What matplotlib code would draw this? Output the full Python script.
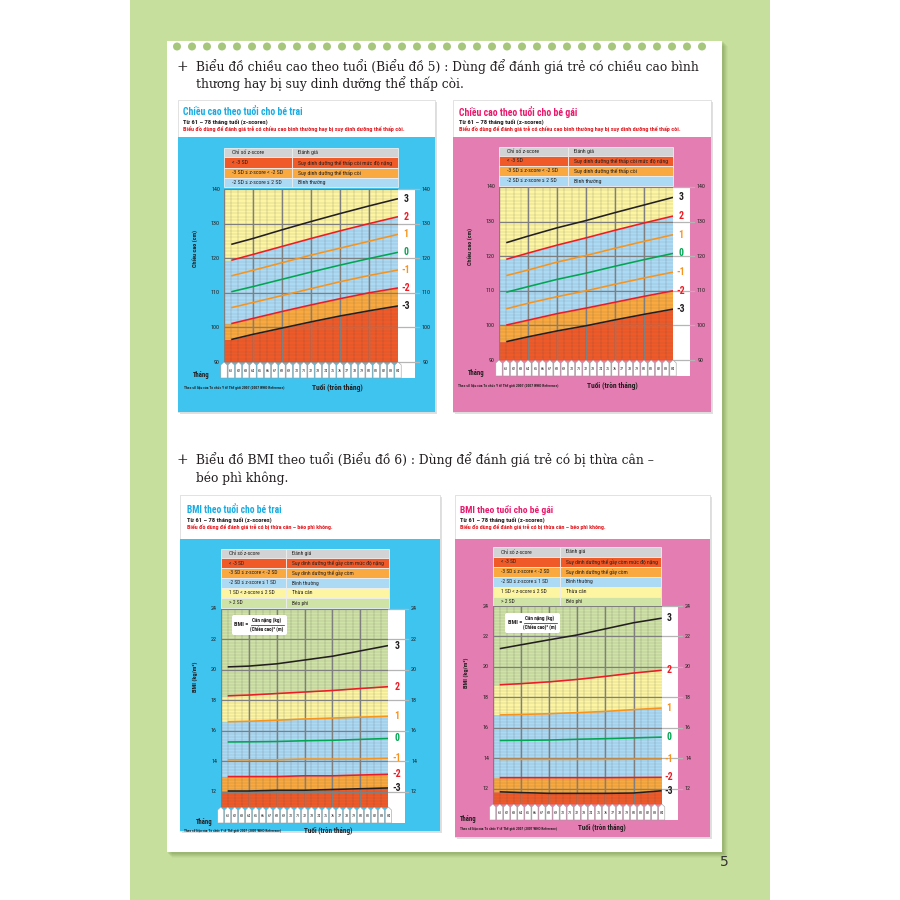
import numpy as np
import matplotlib
matplotlib.use('Agg')
import matplotlib.pyplot as plt
from matplotlib.patches import Rectangle, Polygon, Circle, FancyBboxPatch
from matplotlib import font_manager as fm

# ---------------- data ----------------
months = [61, 64, 68, 72, 76, 80, 84]
tag_months = list(range(60, 85))
z_names = ['-3', '-2', '-1', '0', '1', '2', '3']

# Height-for-age, boys (cm)
hb_m3 = [96.5, 98.0, 99.8, 101.6, 103.3, 104.8, 106.2]
hb_m2 = [101.1, 102.6, 104.6, 106.5, 108.3, 110.0, 111.4]
hb_m1 = [105.7, 107.2, 109.2, 111.2, 113.2, 115.0, 116.6]
hb_0 = [110.3, 111.8, 113.9, 116.0, 118.0, 119.9, 121.7]
hb_p1 = [114.9, 116.5, 118.7, 120.9, 122.9, 124.9, 126.9]
hb_p2 = [119.4, 121.1, 123.4, 125.7, 127.9, 130.0, 132.0]
hb_p3 = [124.0, 125.7, 128.2, 130.6, 132.9, 135.1, 137.2]

# Height-for-age, girls (cm)
hg_m3 = [95.3, 96.7, 98.4, 99.9, 101.6, 103.2, 104.7]
hg_m2 = [100.1, 101.5, 103.4, 105.0, 106.7, 108.4, 110.0]
hg_m1 = [104.8, 106.4, 108.3, 110.0, 111.9, 113.7, 115.4]
hg_0 = [109.6, 111.2, 113.3, 115.1, 117.1, 119.0, 120.8]
hg_p1 = [114.4, 116.0, 118.3, 120.2, 122.3, 124.3, 126.2]
hg_p2 = [119.1, 120.9, 123.2, 125.3, 127.5, 129.6, 131.6]
hg_p3 = [123.9, 125.8, 128.2, 130.3, 132.6, 134.8, 137.0]

# BMI-for-age, boys (kg/m2)
bb_m3 = [12.05, 12.05, 12.1, 12.1, 12.15, 12.2, 12.25]
bb_m2 = [13.0, 13.0, 13.0, 13.05, 13.05, 13.1, 13.15]
bb_m1 = [14.1, 14.1, 14.1, 14.15, 14.15, 14.15, 14.2]
bb_0 = [15.27, 15.28, 15.3, 15.35, 15.38, 15.44, 15.5]
bb_p1 = [16.6, 16.63, 16.7, 16.78, 16.84, 16.9, 16.96]
bb_p2 = [18.3, 18.35, 18.45, 18.55, 18.65, 18.78, 18.9]
bb_p3 = [20.2, 20.25, 20.4, 20.65, 20.9, 21.25, 21.6]

# BMI-for-age, girls (kg/m2)
bg_m3 = [11.8, 11.75, 11.7, 11.7, 11.7, 11.72, 11.87]
bg_m2 = [12.73, 12.73, 12.73, 12.73, 12.73, 12.74, 12.75]
bg_m1 = [13.93, 13.93, 13.93, 13.93, 13.93, 13.94, 13.95]
bg_0 = [15.17, 15.18, 15.2, 15.25, 15.29, 15.34, 15.39]
bg_p1 = [16.85, 16.88, 16.93, 17.0, 17.08, 17.2, 17.3]
bg_p2 = [18.83, 18.9, 19.02, 19.18, 19.38, 19.6, 19.78]
bg_p3 = [21.2, 21.45, 21.78, 22.1, 22.5, 22.9, 23.2]

height_ticks = [90, 100, 110, 120, 130, 140]
bmi_ticks = [12, 14, 16, 18, 20, 22, 24]

# ---------------- fonts ----------------
def has_font(name):
    try:
        fm.findfont(fm.FontProperties(family=name), fallback_to_default=False)
        return True
    except Exception:
        return False

COND = 'DejaVu Sans'
for cand in ['Liberation Sans Narrow', 'Roboto Condensed', 'Open Sans Condensed',
             'Arial Narrow', 'Roboto', 'Liberation Sans']:
    if has_font(cand):
        COND = cand
        break
SANS = [COND, 'DejaVu Sans']
SERIF = ['DejaVu Serif', 'DejaVu Sans']

W = H = 900
fig = plt.figure(figsize=(9, 9), dpi=100)
fig.patch.set_facecolor('white')
bg = fig.add_axes([0, 0, 1, 1])
bg.set_xlim(0, W); bg.set_ylim(H, 0); bg.axis('off')

fits = []      # (text, target width px)
groups = []    # list of ([texts], [targets]) fitted with one common size

def rect(ax, x0, y0, x1, y1, fc, ec='none', lw=0, z=1, alpha=1.0):
    ax.add_patch(Rectangle((x0, y0), x1 - x0, y1 - y0, facecolor=fc, edgecolor=ec,
                           linewidth=lw, zorder=z, alpha=alpha))

def T(ax, x, y, s, size, color='#231f20', weight='bold', ha='left', va='center',
      fam=None, rot=0, z=6, fitw=None, **kw):
    t = ax.text(x, y, s, fontsize=size, color=color, fontweight=weight, ha=ha, va=va,
                family=fam if fam else SANS, rotation=rot, zorder=z, **kw)
    if fitw:
        fits.append((t, fitw))
    return t

# ---------------- page ----------------
rect(bg, 130, 0, 770, 900, '#c6df9c', z=0)
for i, a in enumerate([0.10, 0.09, 0.08, 0.06, 0.05]):
    rect(bg, 168 + i, 42 + i, 724 + i, 854 + i, '#4f6b2a', z=0.5, alpha=a)
rect(bg, 167, 41, 722, 852, 'white', z=1)
for x in np.arange(177, 716, 15):
    bg.add_patch(Circle((x, 46.5), 4.0, facecolor='#a6c67c', edgecolor='none', zorder=2))

T(bg, 177, 67, '+', 10, weight='normal', fam=SERIF)
l1 = T(bg, 196, 67, 'Biểu đồ chiều cao theo tuổi (Biểu đồ 5) : Dùng để đánh giá trẻ có chiều cao bình',
       10, weight='normal', fam=SERIF)
l2 = T(bg, 196, 84, 'thương hay bị suy dinh dưỡng thể thấp còi.', 10, weight='normal', fam=SERIF)
T(bg, 177, 460, '+', 10, weight='normal', fam=SERIF)
l3 = T(bg, 196, 460, 'Biểu đồ BMI theo tuổi (Biểu đồ 6) : Dùng để đánh giá trẻ có bị thừa cân –',
       10, weight='normal', fam=SERIF)
l4 = T(bg, 196, 478, 'béo phì không.', 10, weight='normal', fam=SERIF)
T(bg, 724, 862, '5', 10, weight='normal', fam=['DejaVu Sans'], ha='center', color='#333333')

# ---------------- colors ----------------
RED, ORA, BLU, YEL, GRN = '#f05a28', '#f9a93f', '#acdaf5', '#fdf5a2', '#d0e3a6'
curve_col = {'3': '#231f20', '2': '#ed1c24', '1': '#f7941d', '0': '#00a651',
             '-1': '#f7941d', '-2': '#ed1c24', '-3': '#231f20'}
CARD_BLUE, CARD_PINK = '#3fc3ef', '#e47eb2'
TITLE_BLUE, TITLE_PINK, RED_TXT = '#18ace3', '#e9196b', '#e31e24'

def card(x0, x1, y0, yb, y1, body, title, tcol, sub, red, tw, sw, rw, tx, ty):
    rect(bg, x0 + 1.5, y0 + 1.5, x1 + 1.5, y1 + 1.5, '#000000', z=2, alpha=0.12)
    rect(bg, x0, y0, x1, y1, 'white', ec='#d6d6d6', lw=0.5, z=3)
    rect(bg, x0, yb, x1, y1, body, z=3.5)
    T(bg, tx, ty, title, 9, color=tcol, fitw=tw)
    T(bg, tx, ty + 10.5, sub, 5, color='#231f20', fitw=sw)
    T(bg, tx, ty + 17.5, red, 5, color=RED_TXT, fitw=rw)

def table(x0, x1, xs, rys, rows, cols, w1, w2):
    c1t, c2t = [], []
    for (a, b), (c1, c2), fc in zip(zip(rys[:-1], rys[1:]), rows, cols):
        rect(bg, x0, a, xs, b, fc, ec='#eeeeee', lw=0.6, z=4)
        rect(bg, xs, a, x1, b, fc, ec='#eeeeee', lw=0.6, z=4)
        c1t.append(T(bg, x0 + 8, (a + b) / 2, c1, 4.4, weight='normal'))
        c2t.append(T(bg, xs + 6, (a + b) / 2, c2, 4.4, weight='normal'))
    groups.append((c1t + c2t, [w1] * len(c1t) + [w2] * len(c2t)))

def chart(x0, x1, ytop, ybot, ylo, yhi, series, bounds, bands, ticks, minor_step,
          strip_x1, lab_x, rline_x1, rlab_x, llab_x, tag_h=16):
    ax = fig.add_axes([x0 / W, 1 - ybot / H, (x1 - x0) / W, (ybot - ytop) / H])
    ax.set_xlim(60, 84); ax.set_ylim(ylo, yhi); ax.axis('off')
    pw, ph = x1 - x0, ybot - ytop
    fx = lambda px: (px - x0) / pw
    xs = [60] + months
    levels = [[ylo] * len(xs)] + [[series[k][0]] + list(series[k]) for k in bounds] + [[yhi] * len(xs)]
    for lo, hi, c in zip(levels[:-1], levels[1:], bands):
        ax.fill_between(xs, lo, hi, color=c, lw=0, zorder=1)
    for yv in np.arange(ylo, yhi + 1e-6, minor_step):
        ax.axhline(yv, color='#4d4d4d', lw=0.3, alpha=0.3, zorder=2)
    for m in range(61, 84):
        ax.axvline(m, color='#4d4d4d', lw=0.35, alpha=0.4, zorder=2)
    for yv in ticks:
        ax.axhline(yv, color='#7f7f7f', lw=0.9, zorder=3)
    for m in [60, 64, 68, 72, 76, 80]:
        ax.axvline(m, color='#7f7f7f', lw=1.0, zorder=3)
    for k in z_names:
        ax.plot(months, series[k], color=curve_col[k], lw=1.15, zorder=5, solid_capstyle='butt')
    yt = ax.get_yaxis_transform()
    th = tag_h / ph
    ax.add_patch(Rectangle((1, -th), fx(strip_x1) - 1, 1 + th, transform=ax.transAxes,
                           facecolor='white', edgecolor='none', clip_on=False, zorder=1))
    for v in ticks:
        ax.plot([1, fx(rline_x1)], [v, v], transform=yt, color='#b5b5b5', lw=0.9,
                clip_on=False, zorder=2)
        ax.text(fx(rlab_x), v, str(v), transform=yt, ha='center', va='center', fontsize=4.3,
                family=SANS, color='#231f20', clip_on=False)
        ax.text(fx(llab_x), v, str(v), transform=yt, ha='right', va='center', fontsize=4.3,
                family=SANS, color='#231f20', clip_on=False)
    for k in z_names:
        ax.text(fx(lab_x), series[k][-1], k, transform=yt, ha='center', va='center',
                fontsize=7, fontweight='bold', family=SANS, color=curve_col[k],
                clip_on=False, zorder=7)
    xt = ax.get_xaxis_transform()
    for m in tag_months:
        poly = [(m - 0.44, -th), (m + 0.44, -th), (m + 0.44, -0.18 * th), (m, 0),
                (m - 0.44, -0.18 * th)]
        ax.add_patch(Polygon(poly, closed=True, transform=xt, facecolor='white',
                             edgecolor='#9c9c9c', lw=0.4, clip_on=False, zorder=3))
        if m > 60:
            ax.text(m, -0.58 * th, str(m), transform=xt, ha='center', va='center',
                    fontsize=3.0, family=SANS, color='#231f20', clip_on=False, zorder=4)
    return ax

def chart_texts(ylab, ylw, ylx, yly, thx, thy, tux, tuy, tuw, srcx, srcy, srcw):
    T(bg, ylx, yly, ylab, 4.6, rot=90, ha='center', fitw=-ylw)
    T(bg, thx, thy, 'Tháng', 5, ha='center', fitw=17)
    T(bg, tux, tuy, 'Tuổi (tròn tháng)', 5.6, ha='center', fitw=tuw)
    T(bg, srcx, srcy, 'Theo số liệu của Tổ chức Y tế Thế giới 2007 (2007 WHO Reference)', 2.7,
      fitw=srcw)

hb = dict(zip(z_names, [hb_m3, hb_m2, hb_m1, hb_0, hb_p1, hb_p2, hb_p3]))
hg = dict(zip(z_names, [hg_m3, hg_m2, hg_m1, hg_0, hg_p1, hg_p2, hg_p3]))
bb = dict(zip(z_names, [bb_m3, bb_m2, bb_m1, bb_0, bb_p1, bb_p2, bb_p3]))
bgl = dict(zip(z_names, [bg_m3, bg_m2, bg_m1, bg_0, bg_p1, bg_p2, bg_p3]))

h_rows = [('Chỉ số z-score', 'Đánh giá'),
          ('< -3 SD', 'Suy dinh dưỡng thể thấp còi mức độ nặng'),
          ('-3 SD ≤ z-score < -2 SD', 'Suy dinh dưỡng thể thấp còi'),
          ('-2 SD ≤ z-score ≤ 2 SD', 'Bình thường')]
b_rows = [('Chỉ số z-score', 'Đánh giá'),
          ('< -3 SD', 'Suy dinh dưỡng thể gầy còm mức độ nặng'),
          ('-3 SD ≤ z-score < -2 SD', 'Suy dinh dưỡng thể gầy còm'),
          ('-2 SD ≤ z-score ≤ 1 SD', 'Bình thường'),
          ('1 SD < z-score ≤ 2 SD', 'Thừa cân'),
          ('> 2 SD', 'Béo phì')]
HDR = '#d1d3d4'
sub_txt = 'Từ 61 – 78 tháng tuổi (z-scores)'
red_h = 'Biểu đồ dùng để đánh giá trẻ có chiều cao bình thường hay bị suy dinh dưỡng thể thấp còi.'
red_b = 'Biểu đồ dùng để đánh giá trẻ có bị thừa cân – béo phì không.'

# Card 1: height boys
card(178, 435, 100, 137, 412, CARD_BLUE, 'Chiều cao theo tuổi cho bé trai', TITLE_BLUE,
     sub_txt, red_h, 119, 85, 223, 183, 112)
table(224, 398, 292, [147.7, 157.3, 168, 177.7, 187.3], h_rows, [HDR, RED, ORA, BLU], 56, 93)
chart(224, 398, 189, 362, 90, 140, hb, ['-3', '-2', '2'], [RED, ORA, BLU, YEL],
      height_ticks, 1, 415, 406, 419, 426, 220)
chart_texts('Chiều cao (cm)', 37, 196, 248, 201, 375, 337, 388, 51, 184, 388, 101)

# Card 2: height girls
card(453, 711, 100, 137, 412, CARD_PINK, 'Chiều cao theo tuổi cho bé gái', TITLE_PINK,
     sub_txt, red_h, 118, 85, 223, 459, 112)
table(499, 673, 568, [146.7, 156, 166, 176, 186], h_rows, [HDR, RED, ORA, BLU], 56, 93)
chart(499, 673, 187, 360, 90, 140, hg, ['-3', '-2', '2'], [RED, ORA, BLU, YEL],
      height_ticks, 1, 690, 681, 694, 701, 495)
chart_texts('Chiều cao (cm)', 37, 471, 246, 476, 373, 612, 386, 51, 458, 386, 101)

# Card 3: BMI boys
card(180, 440, 495, 539, 831, CARD_BLUE, 'BMI theo tuổi cho bé trai', TITLE_BLUE,
     sub_txt, red_b, 94, 85, 149, 187, 510)
table(220.7, 388.7, 286, [549.3, 558.3, 568, 578, 588, 598, 608], b_rows,
      [HDR, RED, ORA, BLU, YEL, GRN], 53, 91)
chart(220.7, 388.3, 609, 807, 11, 24, bb, ['-3', '-2', '1', '2'], [RED, ORA, BLU, YEL, GRN],
      bmi_ticks, 0.2, 405, 397, 408, 414, 217)
chart_texts('BMI (kg/m²)', 31, 195, 677, 204, 822, 328, 831, 49, 184, 831, 97)

# Card 4: BMI girls
card(455, 710, 495, 539, 837, CARD_PINK, 'BMI theo tuổi cho bé gái', TITLE_PINK,
     sub_txt, red_b, 92, 85, 148, 460, 510)
table(492.7, 661, 560, [547.3, 556.7, 566.7, 576.7, 586.7, 596.7, 606.7], b_rows,
      [HDR, RED, ORA, BLU, YEL, GRN], 53, 91)
chart(492.7, 661.7, 606, 804, 11, 24, bgl, ['-3', '-2', '1', '2'], [RED, ORA, BLU, YEL, GRN],
      bmi_ticks, 0.2, 678, 669, 682, 688, 489)
chart_texts('BMI (kg/m²)', 31, 466, 673, 468, 819, 602, 828, 48, 460, 829, 96)

# ---------------- overlay: BMI formula boxes ----------------
ov = fig.add_axes([0, 0, 1, 1], zorder=10)
ov.set_xlim(0, W); ov.set_ylim(H, 0); ov.axis('off')
for bx0, by0 in [(232, 615), (505, 613)]:
    ov.add_patch(FancyBboxPatch((bx0, by0), 55, 20, boxstyle='round,pad=0,rounding_size=2',
                                facecolor='white', edgecolor='none', zorder=1))
    T(ov, bx0 + 2.5, by0 + 10, 'BMI =', 3.6, fitw=14)
    T(ov, bx0 + 35, by0 + 5.5, 'Cân nặng (kg)', 3.6, ha='center', fitw=29)
    ov.plot([bx0 + 19, bx0 + 52], [by0 + 10, by0 + 10], color='#231f20', lw=0.5)
    T(ov, bx0 + 35, by0 + 15, '(Chiều cao)² (m)', 3.6, ha='center', fitw=34)

# ---------------- fit text widths ----------------
renderer = fig.canvas.get_renderer()

def extent(t, vertical=False):
    bb_ = t.get_window_extent(renderer)
    return bb_.height if vertical else bb_.width

def fit(t, target):
    vert = target < 0
    w = extent(t, vert)
    if w > 0:
        t.set_fontsize(t.get_fontsize() * abs(target) / w)

fit(l1, 501)
for t in (l2, l3, l4):
    t.set_fontsize(l1.get_fontsize())
for t, wdt in fits:
    fit(t, wdt)
for texts, targets in groups:
    ratio = min(tg / extent(t) for t, tg in zip(texts, targets))
    size = texts[0].get_fontsize() * ratio
    for t in texts:
        t.set_fontsize(size)

fig.savefig('out.png', dpi=100)
